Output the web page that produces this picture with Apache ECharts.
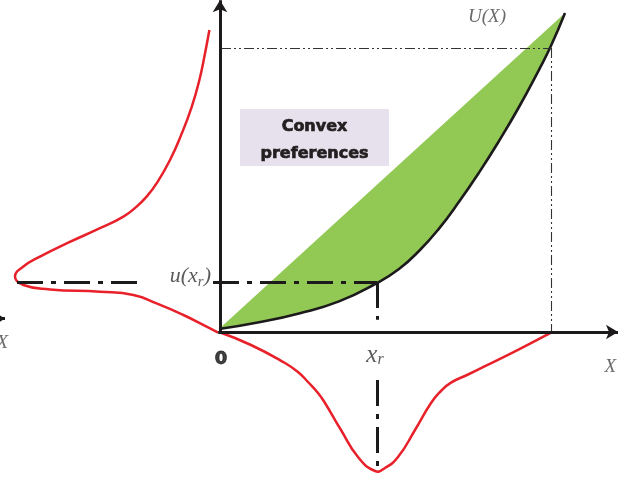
<!DOCTYPE html>
<html><head><meta charset="utf-8">
<script src="https://cdn.jsdelivr.net/npm/echarts@6/dist/echarts.min.js"></script>
<style>html,body{margin:0;padding:0;background:#fff}#c{width:628px;height:488px}</style>
</head><body><div id="c"></div>
<script>
// U(X): convex utility curve, points [X, U]
const utilityCurve = [[0,0.05],[1,0.22],[2,0.44],[3,0.74],[3.95,1.2],[4.5,1.55],[5,2.0],[5.5,2.56],[6,3.23],[6.5,3.96],[7,4.75],[7.5,5.6],[8,6.53],[8.3,7.13],[8.65,7.95]];
// density of U, drawn sideways on the left
const leftDensity = [[-0.24,7.525],[-0.35,6.94],[-0.49,6.275],[-0.68,5.61],[-0.93,4.94],[-1.225,4.275],[-1.56,3.69],[-1.81,3.36],[-2.06,3.11],[-2.39,2.86],[-2.975,2.57],[-3.81,2.19],[-4.475,1.86],[-4.89,1.61],[-5.1,1.36],[-4.89,1.15],[-4.225,1.04],[-2.975,0.98],[-2.14,0.9],[-1.56,0.69],[-0.89,0.4],[-0.31,0.11],[-0.02,-0.04]];
// density of X, drawn below the X axis
const bottomDensity = [[0,-0.025],[0.8,-0.35],[1.65,-0.8],[1.975,-1.025],[2.225,-1.275],[2.475,-1.55],[2.65,-1.8],[3.05,-2.475],[3.475,-3.15],[3.9,-3.5],[4.15,-3.425],[4.475,-3.15],[4.9,-2.475],[5.3,-1.8],[5.55,-1.5],[5.8,-1.29],[6.2,-1.1],[6.65,-0.88],[7.475,-0.47],[8.3,-0.04]];
// reference value x_r and u(x_r); upper corner point
const xr = 3.95, uxr = 1.225;
const xTop = 8.3, uTop = 7.075;
const xAxisEnd = 9.975, yAxisEnd = 8.27;
// text annotations: [X, U, text]
const annotations = [
  [6.7, 7.85, 'ux'],
  [-0.2, 1.36, 'uxr'],
  [0.05, -0.72, 'zero'],
  [3.9, -0.6, 'xr'],
  [9.78, -0.9, 'X'],
  [-5.42, -0.3, 'X']
];
const boxCorners = [[0.525, 5.55], [4.25, 4.125]];
const boxText = 'Convex\npreferences';

const serif = 'Liberation Serif';
const textFor = {
  ux: '{g|U(X)}',
  uxr: '{i|u(x}{s|r}{i|)}',
  zero: '{b|0}',
  xr: '{L|x}{S|r}',
  X: '{g|X}'
};
const rich = {
  g: {fontFamily: serif, fontStyle: 'italic', fontSize: 19, color: '#444', lineHeight: 24},
  i: {fontFamily: serif, fontStyle: 'italic', fontSize: 22, color: '#333', lineHeight: 26},
  s: {fontFamily: serif, fontStyle: 'italic', fontSize: 15, color: '#333', lineHeight: 26, padding: [10, 0, 0, 0]},
  L: {fontFamily: serif, fontStyle: 'italic', fontSize: 25, color: '#333', lineHeight: 28},
  S: {fontFamily: serif, fontStyle: 'italic', fontSize: 16, color: '#333', lineHeight: 28, padding: [10, 0, 0, 0]},
  b: {fontFamily: 'DejaVu Sans', fontWeight: 'bold', fontSize: 18, color: '#111', textBorderColor: '#111', textBorderWidth: 0.8}
};

const dashDot = [26, 8, 5, 8];
const thinDash = [10, 3, 2, 3, 2, 3];
const ink = '#1c1a1b';
const red = '#e8202a';
const green = '#92c854';

// smooth curve drawn through the cartesian scales
function curveSeries(points, style, z) {
  return {
    type: 'custom', coordinateSystem: 'cartesian2d', silent: true, z: z, clip: false,
    data: [points[0]],
    renderItem: (params, api) => ({
      type: 'polyline',
      shape: {points: points.map(p => api.coord(p)), smooth: 0.5},
      style: style
    })
  };
}

const chart = echarts.init(document.getElementById('c'), null, {renderer: 'canvas'});
chart.setOption({
  animation: false,
  backgroundColor: '#fff',
  grid: {left: 0, right: 0, top: 0, bottom: 0},
  xAxis: {type: 'value', min: -5.475, max: 10.225, show: false},
  yAxis: {type: 'value', min: -3.925, max: 8.275, show: false},
  series: [
    // green region between the chord (closing segment) and the curve
    curveSeries(utilityCurve, {fill: green, stroke: null, lineWidth: 0}, 1),
    curveSeries(utilityCurve, {fill: null, stroke: ink, lineWidth: 2.6}, 2),
    curveSeries(leftDensity, {fill: null, stroke: red, lineWidth: 2.5}, 3),
    curveSeries(bottomDensity, {fill: null, stroke: red, lineWidth: 2.5}, 3),
    {type: 'line', data: [], z: 4, silent: true,
      markLine: {silent: true, symbol: ['none', 'none'], label: {show: false}, animation: false,
        data: [
          [{coord: [-5.05, uxr]}, {coord: [-1.95, uxr]}],
          [{coord: [-0.15, uxr]}, {coord: [xr, uxr]}],
          [{coord: [xr, uxr]}, {coord: [xr, 0.28]}],
          [{coord: [xr, -1.225]}, {coord: [xr, -3.475]}]
        ].map(d => { d[0].lineStyle = {color: ink, width: 3, type: dashDot}; return d; })
        .concat([
          [{coord: [0.05, uTop], lineStyle: {color: '#333', width: 1.1, type: thinDash}}, {coord: [xTop, uTop]}],
          [{coord: [xTop, uTop], lineStyle: {color: '#333', width: 1.1, type: thinDash}}, {coord: [xTop, 0]}]
        ])
      }},
    {type: 'line', data: [], z: 5, silent: true,
      markLine: {silent: true, symbol: ['none', 'arrow'], symbolSize: [11, 12], label: {show: false},
        lineStyle: {color: ink, width: 3, type: 'solid'},
        data: [
          [{coord: [-0.02, -0.025]}, {coord: [xAxisEnd, -0.025]}],
          [{coord: [0.025, -0.06]}, {coord: [0.025, yAxisEnd]}],
          [{coord: [-5.47, 0.31]}, {coord: [-5.35, 0.31]}]
        ]
      }},
    {type: 'scatter', z: 6, silent: true, symbolSize: 0,
      data: annotations.map(a => ({value: [a[0], a[1]], name: a[2],
        label: {align: a[2] === 'uxr' ? 'right' : 'center'}})),
      label: {show: true, position: 'inside', verticalAlign: 'middle',
        formatter: p => textFor[p.name], rich: rich},
      markArea: {silent: true, itemStyle: {color: '#e6e1ec'},
        label: {show: true, position: 'inside', formatter: boxText, fontFamily: 'DejaVu Sans', fontWeight: 'bold', fontSize: 16, lineHeight: 27, color: '#231f20', textBorderColor: '#231f20', textBorderWidth: 0.7, offset: [0, 3]},
        data: [[{coord: boxCorners[0]}, {coord: boxCorners[1]}]]}
    }
  ]
});
</script></body></html>
